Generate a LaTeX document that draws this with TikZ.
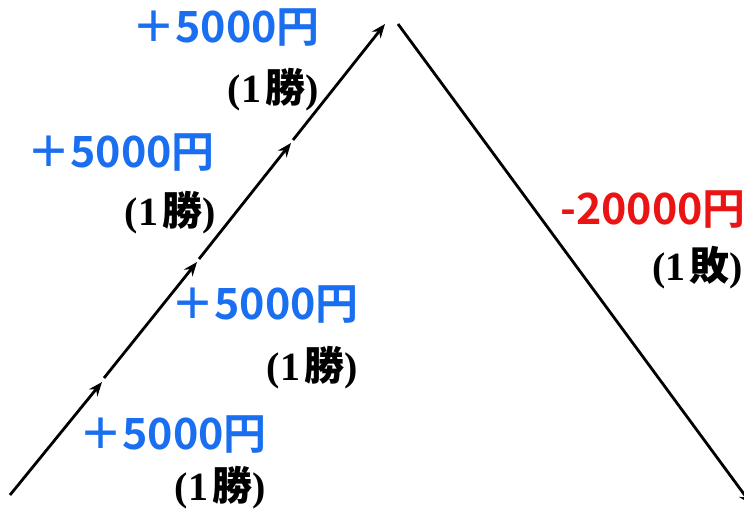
\documentclass[tikz,border=0pt]{standalone}
\usepackage{fontspec}
\setmainfont{Liberation Serif}
\newfontfamily\jpfont{Noto Sans CJK JP Bold}
\usetikzlibrary{arrows.meta}
\definecolor{winblue}{RGB}{26,110,240}
\definecolor{lossred}{RGB}{235,20,20}
\newcommand{\winlabel}{(1\hspace{4pt}{\jpfont 勝})}
\newcommand{\losslabel}{(1\hspace{4pt}{\jpfont 敗})}

\begin{document}
\begin{tikzpicture}[x=1pt,y=-1pt,>={Stealth[length=14pt,width=11pt]},
  gain/.style={text=winblue,font=\fontsize{43}{43}\jpfont,inner sep=0pt},
  loss/.style={text=lossred,font=\fontsize{43}{43}\jpfont,inner sep=0pt},
  tally/.style={font=\fontsize{40}{40}\bfseries,inner sep=0pt},
  path/.style={line width=2.8pt}]
  \useasboundingbox (0,0) rectangle (744,512);
  \clip (0,0) rectangle (744,512);
  % rising path, four wins
  \coordinate (a0) at (10,495);
  \coordinate (a1) at (102,382);
  \coordinate (b0) at (104,378);
  \coordinate (b1) at (197,262);
  \coordinate (c0) at (199,259);
  \coordinate (c1) at (291,143);
  \coordinate (d0) at (293,140);
  \coordinate (d1) at (385,24);
  % falling path, one loss
  \coordinate (e0) at (398,24);
  \coordinate (e1) at (752,505);
  \draw[path,->] (a0) -- (a1);
  \draw[path,->] (b0) -- (b1);
  \draw[path,->] (c0) -- (c1);
  \draw[path,->] (d0) -- (d1);
  \draw[path,->] (e0) -- (e1);
  % labels
  \node[gain] (g1) at (173,435) {＋5000円};
  \node[tally] (w1) at (220,488) {\winlabel};
  \node[gain] (g2) at (265,305) {＋5000円};
  \node[tally] (w2) at (312,368) {\winlabel};
  \node[gain] (g3) at (121,153) {＋5000円};
  \node[tally] (w3) at (170,213) {\winlabel};
  \node[gain] (g4) at (226,28) {＋5000円};
  \node[tally] (w4) at (273,90) {\winlabel};
  \node[loss,anchor=west] (l1) at (560,210) {-20000円};
  \node[tally,anchor=west] (f1) at (652,268) {\losslabel};
\end{tikzpicture}
\end{document}
